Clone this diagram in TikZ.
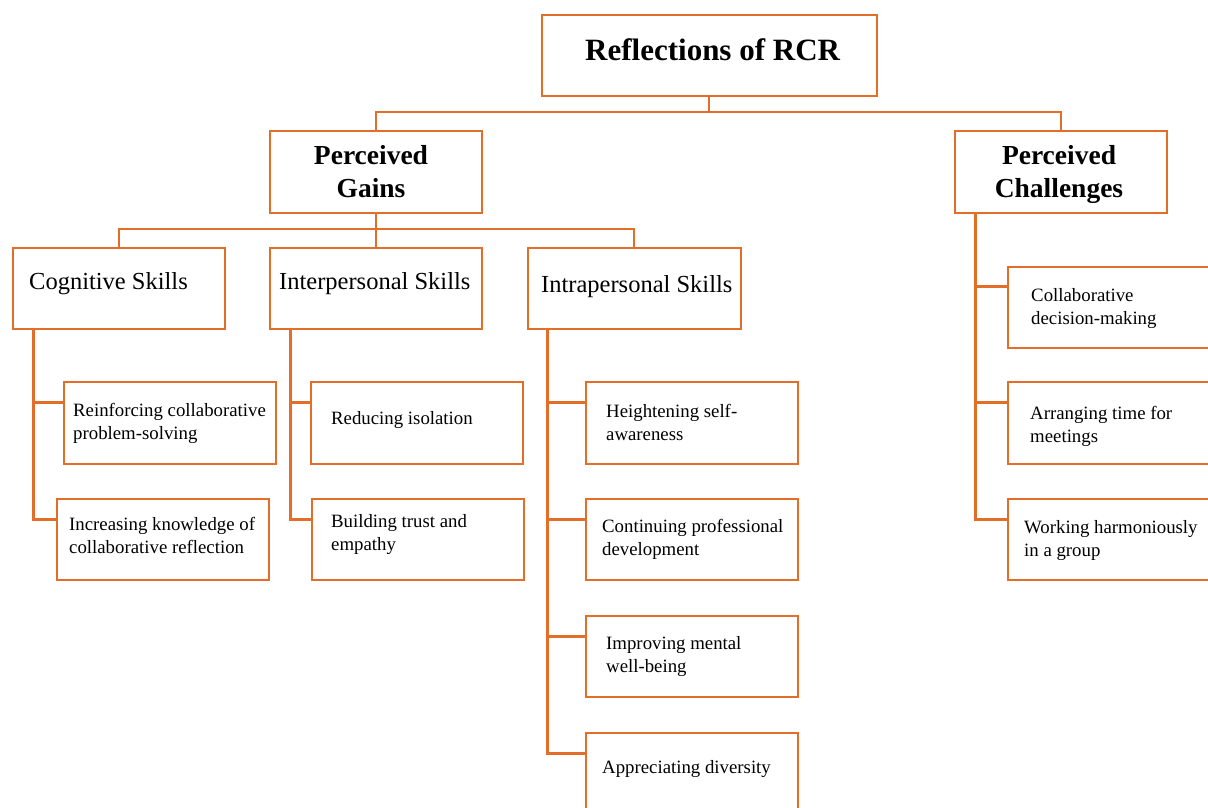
\documentclass[tikz,border=0pt]{standalone}
\usepackage{fontspec}
\setmainfont{Liberation Serif}
\usetikzlibrary{calc}
\definecolor{rcrorange}{RGB}{226,110,42}
\tikzset{
  box/.style={draw=rcrorange, line width=2.3pt, fill=white, rectangle, inner sep=0pt, anchor=north west},
  conn/.style={draw=rcrorange, line width=2.1pt},
  big/.style={font=\fontsize{31}{36}\selectfont\bfseries, inner sep=0pt, anchor=base west},
  head/.style={font=\fontsize{27.5}{32.5}\selectfont\bfseries, inner sep=0pt, align=center, anchor=base},
  mid/.style={font=\fontsize{24.5}{29}\selectfont, inner sep=0pt, anchor=base west},
  small/.style={font=\fontsize{18.8}{22.2}\selectfont, inner sep=0pt, align=left, anchor=base west},
}
\begin{document}
\begin{tikzpicture}[x=1pt,y=-1pt]
\useasboundingbox (0,0) rectangle (1208,807);
\begin{scope}
\clip (0,0) rectangle (1208,807);
% boxes
\node[box, minimum width=335pt, minimum height=81pt] (root) at (540.5,13.5) {};
\node[box, minimum width=212pt, minimum height=82pt] (gains) at (268.5,129.5) {};
\node[box, minimum width=212pt, minimum height=82pt] (chal) at (953.5,129.5) {};
\node[box, minimum width=212pt, minimum height=81pt] (cog) at (11.5,246.5) {};
\node[box, minimum width=212pt, minimum height=81pt] (inter) at (268.5,246.5) {};
\node[box, minimum width=213pt, minimum height=81pt] (intra) at (526.5,246.5) {};
\node[box, minimum width=212pt, minimum height=82pt] (reinf) at (62.5,380.5) {};
\node[box, minimum width=212pt, minimum height=81pt] (incr) at (55.5,497.5) {};
\node[box, minimum width=212pt, minimum height=82pt] (reduc) at (309.5,380.5) {};
\node[box, minimum width=212pt, minimum height=81pt] (build) at (310.5,497.5) {};
\node[box, minimum width=212pt, minimum height=82pt] (heigh) at (584.5,380.5) {};
\node[box, minimum width=212pt, minimum height=81pt] (cont) at (584.5,497.5) {};
\node[box, minimum width=212pt, minimum height=81pt] (impr) at (584.5,614.5) {};
\node[box, minimum width=212pt, minimum height=81pt] (appr) at (584.5,731.5) {};
\node[box, minimum width=212pt, minimum height=81pt] (collab) at (1006.5,265.5) {};
\node[box, minimum width=212pt, minimum height=82pt] (arr) at (1006.5,380.5) {};
\node[box, minimum width=212pt, minimum height=81pt] (work) at (1006.5,497.5) {};
% texts (base anchor = baseline of last line)
\node[big] (troot) at (585,60) {Reflections of RCR};
\node[head] (tgains) at (371,197) {Perceived\\Gains};
\node[head] (tchal) at (1059,197) {Perceived\\Challenges};
\node[mid] (tcog) at (29,289) {Cognitive Skills};
\node[mid] (tinter) at (279,289) {Interpersonal Skills};
\node[mid] (tintra) at (541,292) {Intrapersonal Skills};
\node[small] (treinf) at (73,439) {Reinforcing collaborative\\problem-solving};
\node[small] (tincr) at (69,553) {Increasing knowledge of\\collaborative reflection};
\node[small] (treduc) at (331,424) {Reducing isolation};
\node[small] (tbuild) at (331,550) {Building trust and\\empathy};
\node[small] (theigh) at (606,440) {Heightening self-\\awareness};
\node[small] (tcont) at (602,555) {Continuing professional\\development};
\node[small] (timpr) at (606,672) {Improving mental\\well-being};
\node[small] (tappr) at (602,773) {Appreciating diversity};
\node[small] (tcollab) at (1031,324) {Collaborative\\decision-making};
\node[small] (tarr) at (1030,442) {Arranging time for\\meetings};
\node[small] (twork) at (1024,556) {Working harmoniously\\in a group};
% connectors
\coordinate (bus1) at (0,112);
\coordinate (bus2) at (0,229);
\draw[conn] (root.south) -- (root.south |- bus1) -| (gains.north);
\draw[conn] (root.south |- bus1) -| (chal.north);
\draw[conn] (gains.south) -- (inter.north);
\draw[conn] (gains.south |- bus2) -| (cog.north);
\draw[conn] (gains.south |- bus2) -| (intra.north);
% spines
\draw[conn] ([xshift=22pt]cog.south west) |- ([yshift=-22pt]reinf.north west);
\draw[conn] ([xshift=22pt]cog.south west) |- ([yshift=-22pt]incr.north west);
\draw[conn] ([xshift=22pt]inter.south west) |- ([yshift=-22pt]reduc.north west);
\draw[conn] ([xshift=22pt]inter.south west) |- ([yshift=-22pt]build.north west);
\draw[conn] ([xshift=21pt]intra.south west) |- ([yshift=-22pt]heigh.north west);
\draw[conn] ([xshift=21pt]intra.south west) |- ([yshift=-22pt]cont.north west);
\draw[conn] ([xshift=21pt]intra.south west) |- ([yshift=-22pt]impr.north west);
\draw[conn] ([xshift=21pt]intra.south west) |- ([yshift=-22pt]appr.north west);
\draw[conn] ([xshift=22pt]chal.south west) |- ([yshift=-21pt]collab.north west);
\draw[conn] ([xshift=22pt]chal.south west) |- ([yshift=-22pt]arr.north west);
\draw[conn] ([xshift=22pt]chal.south west) |- ([yshift=-22pt]work.north west);
\end{scope}
\end{tikzpicture}
\end{document}
